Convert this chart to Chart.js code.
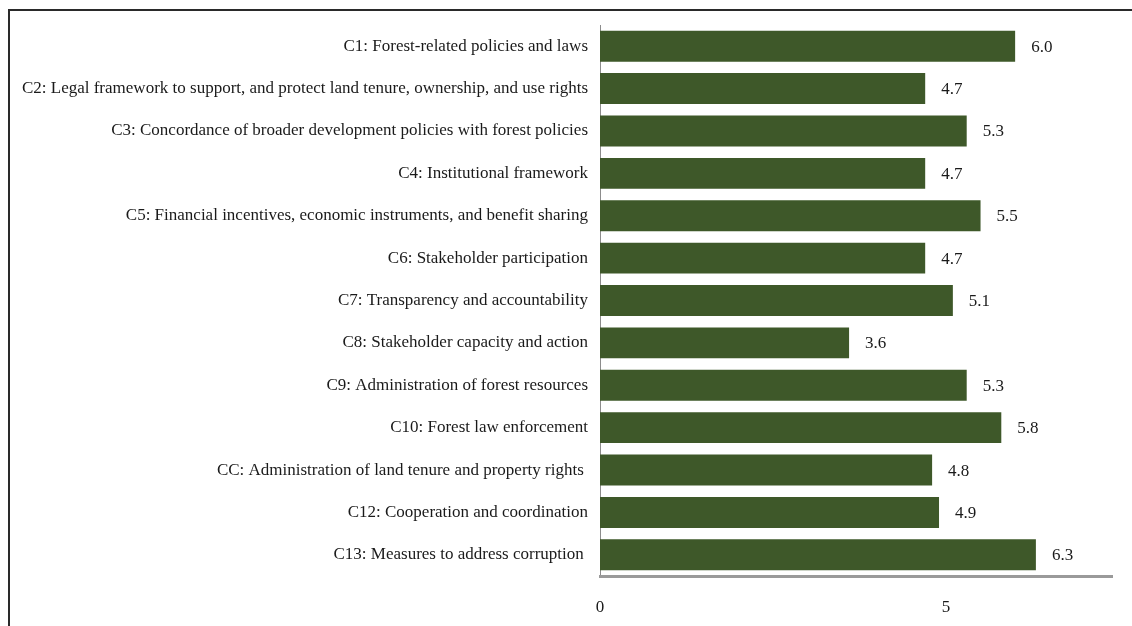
<!DOCTYPE html>
<html>
<head>
<meta charset="utf-8">
<script src="https://cdn.jsdelivr.net/npm/chart.js@4"></script>
<style>
    html, body { margin: 0; padding: 0; background: #ffffff; }
    #wrap { position: relative; width: 1132px; height: 626px; }
</style>
</head>
<body>
<div id="wrap"><canvas id="criteriaChart" width="1132" height="626"></canvas></div>
<script>
// Criterios y puntuaciones
const categories = [
    'C1: Forest-related policies and laws',
    'C2: Legal framework to support, and protect land tenure, ownership, and use rights',
    'C3: Concordance of broader development policies with forest policies',
    'C4: Institutional framework',
    'C5: Financial incentives, economic instruments, and benefit sharing',
    'C6: Stakeholder participation',
    'C7: Transparency and accountability',
    'C8: Stakeholder capacity and action',
    'C9: Administration of forest resources',
    'C10: Forest law enforcement',
    'CC: Administration of land tenure and property rights ',
    'C12: Cooperation and coordination',
    'C13: Measures to address corruption '
];
const scores = [6.0, 4.7, 5.3, 4.7, 5.5, 4.7, 5.1, 3.6, 5.3, 5.8, 4.8, 4.9, 6.3];
const xTickValues = [0, 5];

const serif = '"Liberation Serif", "Times New Roman", serif';
const barColor = '#3e5829';

// Marco superior e izquierdo de la figura
const framePlugin = {
    id: 'frame',
    beforeDraw(chart) {
        const ctx = chart.ctx;
        ctx.save();
        ctx.strokeStyle = '#2a2a2a';
        ctx.lineWidth = 2;
        ctx.beginPath();
        ctx.moveTo(9, 626);
        ctx.lineTo(9, 10);
        ctx.lineTo(1132, 10);
        ctx.stroke();
        ctx.restore();
    }
};

// Etiquetas de valor a la derecha de cada barra
const valueLabels = {
    id: 'valueLabels',
    afterDatasetsDraw(chart) {
        const ctx = chart.ctx;
        const meta = chart.getDatasetMeta(0);
        ctx.save();
        ctx.font = '17px ' + serif;
        ctx.fillStyle = '#1a1a1a';
        ctx.textAlign = 'left';
        ctx.textBaseline = 'middle';
        meta.data.forEach((bar, i) => {
            ctx.fillText(scores[i].toFixed(1), bar.x + 16, bar.y + 1);
        });
        ctx.restore();
    }
};

const ctx = document.getElementById('criteriaChart').getContext('2d');
new Chart(ctx, {
    type: 'bar',
    data: {
        labels: categories,
        datasets: [{
            data: scores,
            backgroundColor: barColor,
            borderWidth: 0,
            categoryPercentage: 1,
            barPercentage: 0.73
        }]
    },
    options: {
        indexAxis: 'y',
        responsive: false,
        animation: false,
        layout: { padding: { left: 0, right: 20, top: 25, bottom: 0 } },
        plugins: {
            legend: { display: false },
            tooltip: { enabled: false }
        },
        scales: {
            y: {
                grid: { display: false, drawTicks: false },
                border: { display: true, color: '#8c8c8c', width: 1 },
                ticks: {
                    color: '#1a1a1a',
                    font: { family: serif, size: 17 },
                    padding: 12,
                    autoSkip: false
                },
                afterFit(scale) { scale.width = 600; }
            },
            x: {
                min: 0,
                max: 7.4,
                grid: { display: false, drawTicks: false },
                border: { display: true, color: '#9a9a9a', width: 3 },
                ticks: {
                    color: '#1a1a1a',
                    font: { family: serif, size: 17 },
                    padding: 21,
                    maxRotation: 0
                },
                afterBuildTicks(scale) {
                    scale.ticks = xTickValues.map(v => ({ value: v }));
                },
                afterFit(scale) { scale.height = 50; }
            }
        }
    },
    plugins: [framePlugin, valueLabels]
});
</script>
</body>
</html>
